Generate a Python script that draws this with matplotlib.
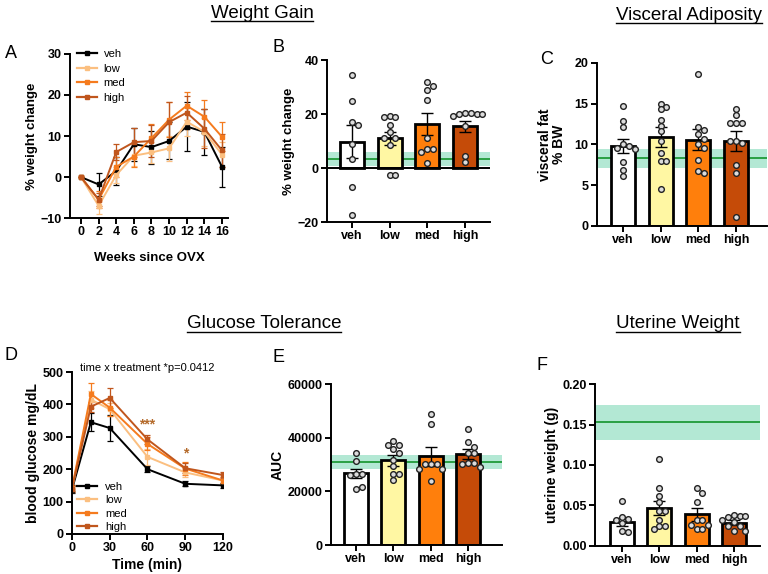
import numpy as np
import matplotlib
matplotlib.use("Agg")
import matplotlib.pyplot as plt
from matplotlib.lines import Line2D

plt.rcParams['font.family'] = ['Liberation Sans', 'DejaVu Sans']

# ---- data ----
groups = ["veh", "low", "med", "high"]
line_colors = ["#000000", "#fbbf80", "#f57b1e", "#c0561d"]
bar_colors = ["#ffffff", "#fff7a3", "#ff7f0c", "#c54b08"]

# A: weight change over weeks
weeks = [0, 2, 4, 6, 8, 10, 12, 14, 16]
wt_veh = [0, -1.8, 1.5, 8.0, 7.3, 8.8, 12.3, 11.0, 2.5]
wt_low = [0, -7.0, 0.5, 5.2, 6.0, 7.0, 13.5, 11.0, 5.5]
wt_med = [0, -5.5, 2.5, 5.0, 9.5, 14.0, 17.4, 14.7, 9.8]
wt_high = [0, -5.5, 6.1, 8.5, 8.8, 13.4, 15.7, 11.8, 6.5]
wt_veh_err = [0, 2.7, 3.5, 4.0, 4.0, 4.5, 6.0, 5.5, 4.8]
wt_low_err = [0, 2.0, 2.0, 2.5, 2.5, 3.0, 3.5, 3.5, 3.0]
wt_med_err = [0, 2.0, 2.5, 2.5, 3.5, 4.2, 3.4, 4.0, 3.5]
wt_high_err = [0, 1.5, 2.0, 3.5, 4.0, 4.8, 4.0, 4.8, 4.0]

# B: % weight change per animal
wg_veh = [34.5, 25.0, 17.0, 16.0, 9.0, 3.3, -7.0, -17.5]
wg_low = [19.3, 18.8, 18.8, 15.8, 13.2, 11.2, 11.2, 8.5, -2.6, -2.6]
wg_med = [31.9, 30.2, 28.8, 25.2, 11.1, 7.0, 7.0, 5.8, 2.0]
wg_high = [20.5, 20.5, 20.0, 20.0, 19.3, 20.0, 15.7, 4.4, 2.1]
wg_mean = [9.8, 11.0, 16.3, 15.5]
wg_sem = [6.0, 2.5, 4.2, 2.0]
wg_ref = (3.4, 0.8, 6.0)  # line, band low, band high

# C: visceral fat % BW
vf_veh = [14.7, 12.9, 12.1, 10.0, 9.8, 9.6, 9.4, 7.9, 6.9, 6.1]
vf_low = [15.0, 14.6, 14.3, 13.0, 12.3, 11.6, 10.4, 9.0, 8.0, 8.0, 4.5]
vf_med = [18.6, 12.2, 11.8, 11.3, 10.7, 10.0, 9.6, 8.1, 6.8, 6.5]
vf_high = [14.4, 13.6, 12.6, 12.6, 12.6, 10.4, 10.2, 10.4, 7.5, 6.5, 1.1]
vf_mean = [9.8, 10.9, 10.6, 10.4]
vf_sem = [0.9, 1.2, 1.3, 1.2]
vf_ref = (8.3, 7.1, 9.5)

# D: glucose tolerance
times = [0, 15, 30, 60, 90, 120]
gl_veh = [137, 345, 327, 200, 155, 150]
gl_low = [140, 415, 385, 238, 190, 165]
gl_med = [142, 432, 390, 278, 202, 165]
gl_high = [140, 393, 420, 292, 203, 182]
gl_veh_err = [10, 28, 40, 10, 8, 8]
gl_low_err = [10, 25, 20, 25, 15, 10]
gl_med_err = [10, 35, 25, 20, 20, 10]
gl_high_err = [10, 15, 32, 15, 15, 10]

# E: AUC
auc_veh = [34200, 31400, 26400, 26400, 26000, 21000, 21500]
auc_low = [38600, 37400, 37300, 35700, 34200, 31800, 29500, 26400, 26400, 24200]
auc_med = [49000, 45000, 30300, 30300, 30300, 28300, 28300, 24000]
auc_high = [43300, 38400, 36700, 34200, 34200, 30500, 30500, 30100, 29200]
auc_mean = [26800, 31500, 33000, 33900]
auc_sem = [1700, 1900, 3500, 1800]
auc_ref = (30900, 28400, 33400)

# F: uterine weight
ut_veh = [0.056, 0.036, 0.033, 0.032, 0.028, 0.018, 0.017]
ut_low = [0.107, 0.072, 0.062, 0.054, 0.043, 0.043, 0.032, 0.025, 0.025, 0.021]
ut_med = [0.071, 0.066, 0.054, 0.032, 0.032, 0.026, 0.026, 0.021, 0.021]
ut_high = [0.038, 0.037, 0.036, 0.037, 0.032, 0.030, 0.025, 0.025, 0.019, 0.019]
ut_mean = [0.030, 0.047, 0.039, 0.029]
ut_sem = [0.005, 0.009, 0.008, 0.003]
ut_ref = (0.1525, 0.131, 0.174)

TICK_FS = 9
LAB_FS = 9.5
SPINE_W = 1.4
W, H = 768, 574


def style_axes(ax):
    for s in ["top", "right"]:
        ax.spines[s].set_visible(False)
    for s in ["left", "bottom"]:
        ax.spines[s].set_linewidth(SPINE_W)
    ax.tick_params(width=SPINE_W, length=4, labelsize=TICK_FS, pad=2)
    for lab in ax.get_xticklabels() + ax.get_yticklabels():
        lab.set_fontweight("bold")


def swarm_offsets(ax, x0, vals, diam_px=5.8):
    # simple beeswarm: push points sideways until they don't overlap
    placed = []
    xs = []
    cands = [0]
    for i in range(1, 10):
        cands += [i, -i]
    for v in vals:
        px0, py = ax.transData.transform((x0, v))
        for c in cands:
            px = px0 + c * diam_px
            if all((px - qx) ** 2 + (py - qy) ** 2 >= (diam_px * 0.95) ** 2 for qx, qy in placed):
                break
        placed.append((px, py))
        xs.append(ax.transData.inverted().transform((px, py))[0])
    return xs


def bar_panel(ax, means, sems, points, ref, ylim, yticks, xlim):
    x = np.arange(len(groups))
    ax.set_xlim(*xlim)
    ax.set_ylim(*ylim)
    ax.axhspan(ref[1], ref[2], color="#b3e8d4", lw=0, zorder=1)
    ax.axhline(ref[0], color="#1f9a38", lw=1.3, zorder=1.5)
    ax.bar(x, means, width=0.64, color=bar_colors, edgecolor="black", linewidth=2.0, zorder=2)
    ax.errorbar(x, means, yerr=sems, fmt="none", ecolor="black", elinewidth=1.0,
                capsize=4, capthick=1.0, zorder=3)
    for i, vals in enumerate(points):
        xs = swarm_offsets(ax, x[i], vals)
        ax.plot(xs, vals, "o", ms=4.1, mfc="#dcdcdc", mec="#222222", mew=1.0, zorder=4, clip_on=False)
    ax.set_xticks(x)
    ax.set_xticklabels(groups)
    ax.set_yticks(yticks)
    style_axes(ax)


def legend_handles():
    return [Line2D([], [], color=c, lw=1.6, marker="s", ms=2.2) for c in line_colors]


fig = plt.figure(figsize=(7.68, 5.74), dpi=100)

# ---- A ----
axA = fig.add_axes([0.0911, 0.620, 0.206, 0.286])
wt_series = [(wt_veh, wt_veh_err), (wt_low, wt_low_err), (wt_med, wt_med_err), (wt_high, wt_high_err)]
for (vals, errs), c, g in zip(wt_series, line_colors, groups):
    axA.errorbar(weeks, vals, yerr=errs, color=c, lw=1.4, marker="s", ms=2.2,
                 elinewidth=0.9, capsize=2, capthick=0.9)
axA.set_xlim(-1.25, 16.7)
axA.set_ylim(-10, 30)
axA.set_xticks(weeks)
axA.set_yticks([-10, 0, 10, 20, 30])
axA.set_ylabel("% weight change", fontsize=LAB_FS, fontweight="bold", labelpad=2)
axA.set_xlabel("Weeks since OVX", fontsize=LAB_FS, fontweight="bold", labelpad=10)
style_axes(axA)
fig.legend(legend_handles(), groups, loc="upper left", bbox_to_anchor=(77 / W, 1 - 49 / H),
           bbox_transform=fig.transFigure, frameon=False, fontsize=8, borderpad=0,
           borderaxespad=0, handlelength=1.8, handletextpad=0.6, labelspacing=0.42)

# ---- B ----
axB = fig.add_axes([0.4258, 0.6132, 0.212, 0.2822])
bar_panel(axB, wg_mean, wg_sem, [wg_veh, wg_low, wg_med, wg_high], wg_ref,
          (-20, 40), [-20, 0, 20, 40], (-0.66, 3.66))
axB.axhline(0, color="black", lw=SPINE_W, zorder=2.5)
axB.set_ylabel("% weight change", fontsize=LAB_FS, fontweight="bold", labelpad=2)

# ---- C ----
axC = fig.add_axes([0.7773, 0.6063, 0.2214, 0.284])
bar_panel(axC, vf_mean, vf_sem, [vf_veh, vf_low, vf_med, vf_high], vf_ref,
          (0, 20), [0, 5, 10, 15, 20], (-0.69, 3.82))
axC.set_ylabel("visceral fat\n% BW", fontsize=LAB_FS + 0.5, fontweight="bold", labelpad=6, linespacing=1.0)

# ---- D ----
axD = fig.add_axes([0.09375, 0.0697, 0.1966, 0.2822])
gl_series = [(gl_veh, gl_veh_err), (gl_low, gl_low_err), (gl_med, gl_med_err), (gl_high, gl_high_err)]
for (vals, errs), c, g in zip(gl_series, line_colors, groups):
    axD.errorbar(times, vals, yerr=errs, color=c, lw=1.4, marker="s", ms=2.2,
                 elinewidth=0.9, capsize=2, capthick=0.9)
axD.set_xlim(0, 120)
axD.set_ylim(0, 500)
axD.set_xticks([0, 30, 60, 90, 120])
axD.set_yticks([0, 100, 200, 300, 400, 500])
axD.set_ylabel("blood glucose mg/dL", fontsize=LAB_FS + 0.5, fontweight="bold", labelpad=2)
axD.set_xlabel("Time (min)", fontsize=10, fontweight="bold", labelpad=3)
style_axes(axD)
axD.text(60, 338, "***", color="#b46a2a", fontsize=10, ha="center", va="center", fontweight="bold")
axD.text(90, 248, "*", color="#b46a2a", fontsize=10, ha="center", va="center", fontweight="bold")
axD.text(60, 512, "time x treatment *p=0.0412", fontsize=8, ha="center", va="center")
fig.legend(legend_handles(), groups, loc="upper left", bbox_to_anchor=(77 / W, 1 - 482 / H),
           bbox_transform=fig.transFigure, frameon=False, fontsize=8, borderpad=0,
           borderaxespad=0, handlelength=1.8, handletextpad=0.75, labelspacing=0.3)

# ---- E ----
axE = fig.add_axes([0.431, 0.0505, 0.2227, 0.2805])
bar_panel(axE, auc_mean, auc_sem, [auc_veh, auc_low, auc_med, auc_high], auc_ref,
          (0, 60000), [0, 20000, 40000, 60000], (-0.67, 3.91))
axE.set_ylabel("AUC", fontsize=LAB_FS + 0.5, fontweight="bold", labelpad=2)

# ---- F ----
axF = fig.add_axes([0.7747, 0.0488, 0.2148, 0.2822])
bar_panel(axF, ut_mean, ut_sem, [ut_veh, ut_low, ut_med, ut_high], ut_ref,
          (0, 0.2), [0, 0.05, 0.10, 0.15, 0.20], (-0.73, 3.70))
axF.set_yticklabels(["0.00", "0.05", "0.10", "0.15", "0.20"], fontweight="bold")
axF.set_ylabel("uterine weight (g)", fontsize=LAB_FS + 0.5, fontweight="bold", labelpad=2)

# ---- panel letters ----
for lab, (px, py) in zip("ABCDEF", [(5, 54), (272, 48), (540, 60), (5, 355), (273, 357), (537, 366)]):
    fig.text(px / W, 1 - py / H, lab, fontsize=13, ha="left", va="center")

# ---- underlined section titles ----
titles = [("Weight Gain", 262, 13), ("Visceral Adiposity", 689, 15),
          ("Glucose Tolerance", 264, 324), ("Uterine Weight", 678, 324)]
title_objs = []
for txt, cx, cy in titles:
    t = fig.text(cx / W, 1 - cy / H, txt, fontsize=13.5, ha="center", va="center")
    title_objs.append(t)
fig.canvas.draw()
r = fig.canvas.get_renderer()
for t in title_objs:
    bb = t.get_window_extent(renderer=r)
    yl = (bb.y0 + 1) / fig.bbox.height
    fig.add_artist(Line2D([bb.x0 / fig.bbox.width, bb.x1 / fig.bbox.width], [yl, yl],
                          color="black", lw=1.0, transform=fig.transFigure))

fig.savefig("out.png", dpi=100)
